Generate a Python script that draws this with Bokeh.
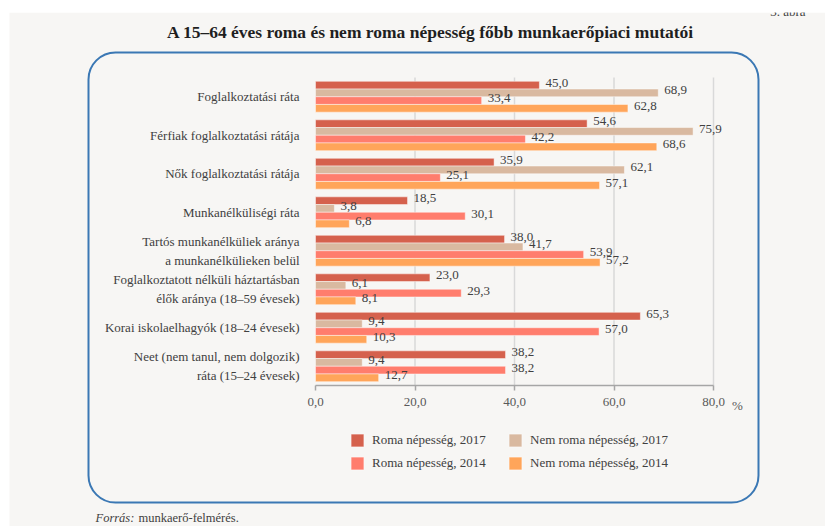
from bokeh.plotting import figure
from bokeh.models import (ColumnDataSource, Range1d, FixedTicker, Label, Legend,
                          LegendItem, BoxAnnotation)
from bokeh.core.properties import value
from bokeh.embed import file_html
from bokeh.resources import INLINE

categories = [
    "Foglalkoztatási ráta",
    "Férfiak foglalkoztatási rátája",
    "Nők foglalkoztatási rátája",
    "Munkanélküliségi ráta",
    "Tartós munkanélküliek aránya\na munkanélkülieken belül",
    "Foglalkoztatott nélküli háztartásban\nélők aránya (18–59 évesek)",
    "Korai iskolaelhagyók (18–24 évesek)",
    "Neet (nem tanul, nem dolgozik)\nráta (15–24 évesek)",
]
series_names = ["Roma népesség, 2017", "Nem roma népesség, 2017",
                "Roma népesség, 2014", "Nem roma népesség, 2014"]
roma_2017 = [45.0, 54.6, 35.9, 18.5, 38.0, 23.0, 65.3, 38.2]
nem_roma_2017 = [68.9, 75.9, 62.1, 3.8, 41.7, 6.1, 9.4, 9.4]
roma_2014 = [33.4, 42.2, 25.1, 30.1, 53.9, 29.3, 57.0, 38.2]
nem_roma_2014 = [62.8, 68.6, 57.1, 6.8, 57.2, 8.1, 10.3, 12.7]
x_ticks = [0, 20, 40, 60, 80]
x_tick_labels = ["0,0", "20,0", "40,0", "60,0", "80,0"]

colors = ["#d5614d", "#d9b9a0", "#ff7d6d", "#ffa55a"]
series = [roma_2017, nem_roma_2017, roma_2014, nem_roma_2014]
SERIF = "Liberation Serif"
BG = "#f7f6f4"
TXT = "#404040"

# canvas layout (pixels)
W, H = 825, 526
X0PX, XPX = 315, 398 / 80       # x=0 position, px per unit
Y0PX, YPX = 77, 38.5            # top of first category, px per category
n = len(categories)

p = figure(width=W, height=H, output_backend="svg", toolbar_location=None,
           x_range=Range1d(-X0PX / XPX, (W - X0PX) / XPX),
           y_range=Range1d((H - Y0PX) / YPX, -Y0PX / YPX),
           min_border=0)
p.title.visible = False
p.background_fill_color = "white"
p.border_fill_color = "white"
p.outline_line_color = None
p.xgrid.visible = False
p.ygrid.visible = False

def px_x(px):
    return (px - X0PX) / XPX

def px_y(py):
    return (py - Y0PX) / YPX

# page background (grey area of the screenshot)
p.quad(left=px_x(9), right=px_x(W + 5), top=px_y(12), bottom=px_y(H + 5),
       fill_color=BG, line_color=None, level="underlay")

# vertical grid lines
p.segment(x0=x_ticks[1:], x1=x_ticks[1:], y0=[0] * 4, y1=[n] * 4,
          line_color="#d9d9d9", line_width=1.5)

renderers = []
for k, (vals, col) in enumerate(zip(series, colors)):
    ys = [i + 0.2 + 0.2 * k for i in range(n)]
    src = ColumnDataSource(dict(
        y=ys, v=vals,
        lab=[f"{v:.1f}".replace(".", ",") for v in vals]))
    r = p.hbar(y="y", right="v", left=0, height=0.2, source=src,
               fill_color=col, line_color="white", line_alpha=0.45, line_width=1)
    renderers.append(r)
    p.text(x="v", y="y", text="lab", source=src, x_offset=6, y_offset=-2.5,
           text_baseline="middle", text_align="left", text_font=value(SERIF),
           text_font_size="13px", text_color=TXT)

# x axis
xa = p.xaxis[0]
xa.fixed_location = n
xa.ticker = FixedTicker(ticks=x_ticks)
xa.major_label_overrides = {t: l for t, l in zip(x_ticks, x_tick_labels)}
xa.bounds = (0, 80)
xa.axis_line_color = "#a6a6a6"
xa.axis_line_width = 1.5
xa.major_tick_line_color = "#a6a6a6"
xa.major_tick_line_width = 1.5
xa.major_tick_in = 0
xa.major_tick_out = 5
xa.minor_tick_line_color = None
xa.major_label_standoff = 7
xa.major_label_text_font = SERIF
xa.major_label_text_font_size = "13px"
xa.major_label_text_color = "#595959"

# y axis (categories)
ya = p.yaxis[0]
ya.fixed_location = 0
ya.ticker = FixedTicker(ticks=[i + 0.5 for i in range(n)])
ya.major_label_overrides = {i + 0.5: c for i, c in enumerate(categories)}
ya.axis_line_color = None
ya.major_tick_line_color = None
ya.minor_tick_line_color = None
ya.major_label_standoff = 10
ya.major_label_text_font = SERIF
ya.major_label_text_font_size = "13px"
ya.major_label_text_color = TXT
ya.major_label_text_line_height = 1.25

# rounded frame
box = BoxAnnotation(left=88, right=758, top=52, bottom=502,
                    left_units="canvas", right_units="canvas",
                    top_units="canvas", bottom_units="canvas",
                    fill_alpha=0, line_color="#3b78b4", line_alpha=1, line_width=2,
                    border_radius=27, level="underlay")
p.add_layout(box)

# page number (upper part hidden by the white strip, as in the screenshot)
p.text(x=[px_x(805)], y=[px_y(11)], text=["3. ábra"], text_align="right",
       text_baseline="alphabetic", text_font=value(SERIF), text_font_size="13px",
       text_color=TXT)
p.quad(left=px_x(-5), right=px_x(W + 5), top=px_y(-5), bottom=px_y(12),
       fill_color="white", line_color=None, level="overlay")

# titles and notes
p.add_layout(Label(x=430, y=31, x_units="canvas", y_units="canvas",
                   text="A 15–64 éves roma és nem roma népesség főbb munkaerőpiaci mutatói",
                   text_align="center", text_baseline="middle", text_font=SERIF,
                   text_font_style="bold", text_font_size="17.5px", text_color="#1f1f1f"))
p.add_layout(Label(x=737, y=405, x_units="canvas", y_units="canvas", text="%",
                   text_align="center", text_baseline="middle", text_font=SERIF,
                   text_font_size="13px", text_color="#595959"))
p.add_layout(Label(x=95, y=517, x_units="canvas", y_units="canvas", text="Forrás:",
                   text_align="left", text_baseline="middle", text_font=SERIF,
                   text_font_style="italic", text_font_size="12.5px", text_color=TXT))
p.add_layout(Label(x=138, y=517, x_units="canvas", y_units="canvas",
                   text="munkaerő-felmérés.", text_align="left", text_baseline="middle",
                   text_font=SERIF, text_font_size="12.5px", text_color=TXT))

legend = Legend(items=[LegendItem(label=series_names[i], renderers=[renderers[i]])
                       for i in [0, 2, 1, 3]],
                ncols=2, location=(349, 53), margin=0, padding=0,
                border_line_color=None, background_fill_alpha=0,
                glyph_width=16, glyph_height=16, label_standoff=7,
                label_height=20, label_width=132, spacing=3,
                label_text_font=SERIF, label_text_font_size="13px",
                label_text_color=TXT)
p.add_layout(legend, "center")

open("out.html", "w").write(file_html(p, INLINE))
